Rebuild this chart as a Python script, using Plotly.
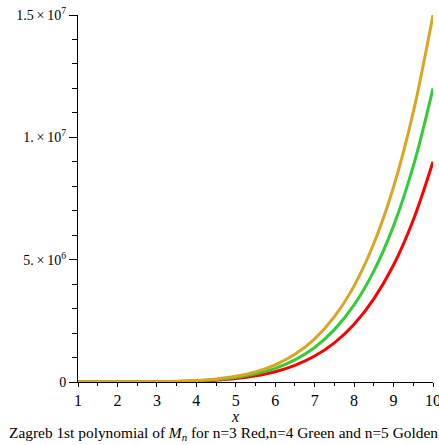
import plotly.graph_objects as go

x_vals = [1, 1.5, 2, 2.5, 3, 3.5, 4, 4.5, 5, 5.5, 6, 6.5, 7, 7.5, 8, 8.5, 9, 9.5, 10]
red_n3 = [9, 100, 580, 2200, 6600, 16500, 37000, 75000, 140000, 250000, 420000, 680000,
          1060000, 1600000, 2360000, 3400000, 4780000, 6620000, 9000000]
green_n4 = [12, 135, 770, 2930, 8750, 22000, 49000, 100000, 188000, 332000, 560000, 905000,
            1410000, 2140000, 3150000, 4530000, 6380000, 8820000, 12000000]
golden_n5 = [15, 170, 960, 3660, 10900, 27600, 61400, 125000, 234000, 415000, 700000, 1130000,
             1760000, 2670000, 3930000, 5660000, 7970000, 11030000, 15000000]

y_tickvals = [0, 5e6, 1e7, 1.5e7]
y_ticktext = ["0", "5.\u2009×\u200910<sup>6</sup>", "1.\u2009×\u200910<sup>7</sup>",
              "1.5\u2009×\u200910<sup>7</sup>"]
x_tickvals = [1, 2, 3, 4, 5, 6, 7, 8, 9, 10]
x_ticktext = ["1", "2", "3", "4", "5", "6", "7", "8", "9", "10"]

FONT = "Liberation Serif, Times New Roman, serif"

fig = go.Figure()
for ys, col in [(red_n3, "#FF0000"), (green_n4, "#33CC33"), (golden_n5, "#DAA520")]:
    fig.add_trace(go.Scatter(x=x_vals, y=ys, mode="lines",
                             line=dict(color=col, width=3, shape="spline"),
                             showlegend=False, hoverinfo="skip"))

L, R, T, B = 78, 6, 15, 63
W, H = 439, 445
plot_h = H - T - B
plot_w = W - L - R

fig.update_layout(
    width=W, height=H,
    margin=dict(l=L, r=R, t=T, b=B, autoexpand=False),
    paper_bgcolor="white", plot_bgcolor="white",
    font=dict(family=FONT, size=14, color="black"),
    xaxis=dict(range=[1, 10], showgrid=False, zeroline=False, showline=True,
               automargin=False,
               linecolor="black", linewidth=1, ticks="outside", ticklen=4,
               tickcolor="black", tickmode="array", tickvals=x_tickvals,
               ticktext=x_ticktext, tickfont=dict(family=FONT, size=16),
               ticklabeloverflow="allow",
               minor=dict(ticks="outside", dtick=0.5, tick0=1, ticklen=3,
                          tickcolor="black", showgrid=False)),
    yaxis=dict(range=[0, 1.5e7], showgrid=False, zeroline=False, showline=True,
               automargin=False,
               linecolor="black", linewidth=1, ticks="outside", ticklen=8,
               tickcolor="black", tickmode="array", tickvals=y_tickvals,
               ticktext=y_ticktext, tickfont=dict(family=FONT, size=14),
               minor=dict(ticks="outside", dtick=1e6, tick0=0, ticklen=5,
                          tickcolor="black", showgrid=False)),
    annotations=[
        dict(text="<i>x</i>", x=(235 - L) / plot_w, y=-(416 - 382) / plot_h,
             xref="paper", yref="paper", xanchor="center", yanchor="middle",
             showarrow=False, font=dict(family=FONT, size=16)),
        dict(text="Zagreb 1st polynomial of <i>M<sub>n</sub></i> for n=3 Red,n=4 Green and n=5 Golden",
             x=(223 - L) / plot_w, y=-(433 - 382) / plot_h,
             xref="paper", yref="paper", xanchor="center", yanchor="middle",
             showarrow=False, font=dict(family=FONT, size=15.4)),
    ],
)

fig.write_html("out.html", config={"displayModeBar": False},
               post_script="document.body.style.margin='0';document.body.style.padding='0';")
